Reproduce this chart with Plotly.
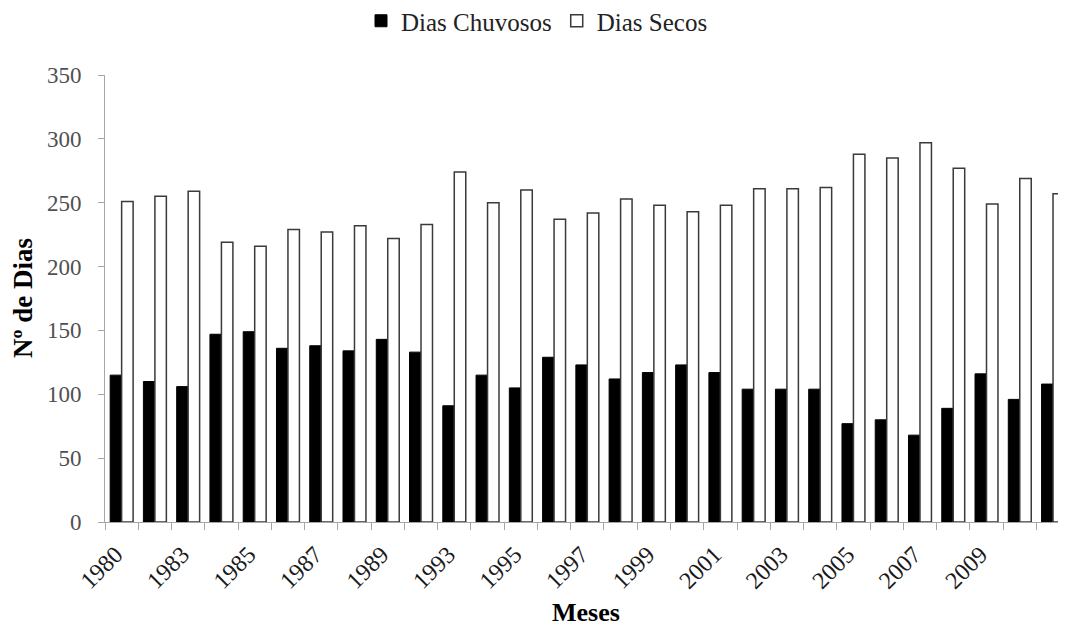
import plotly.graph_objects as go

years = ["1980", "1982", "1983", "1984", "1985", "1986", "1987", "1988", "1989", "1992",
         "1993", "1994", "1995", "1996", "1997", "1998", "1999", "2000", "2001", "2002",
         "2003", "2004", "2005", "2006", "2007", "2008", "2009", "2010", "2011"]
dias_chuvosos = [115, 110, 106, 147, 149, 136, 138, 134, 143, 133,
                 91, 115, 105, 129, 123, 112, 117, 123, 117, 104,
                 104, 104, 77, 80, 68, 89, 116, 96, 108]
dias_secos = [251, 255, 259, 219, 216, 229, 227, 232, 222, 233,
              274, 250, 260, 237, 242, 253, 248, 243, 248, 261,
              261, 262, 288, 285, 297, 277, 249, 269, 257]
tick_labels = [y if i % 2 == 0 and i < 27 else "" for i, y in enumerate(years)]

FONT = "Liberation Serif"
W, H = 1058, 618  # page body has an 8px margin

fig = go.Figure()
fig.add_trace(go.Bar(x=years, y=dias_chuvosos, name="Dias Chuvosos",
                     marker=dict(color="black", line=dict(color="black", width=1))))
fig.add_trace(go.Bar(x=years, y=dias_secos, name="Dias Secos",
                     marker=dict(color="white", line=dict(color="#3a3a3a", width=1.5))))

fig.update_layout(
    width=W, height=H,
    margin=dict(l=97, r=0, t=67, b=104, autoexpand=False),
    plot_bgcolor="white", paper_bgcolor="white",
    barmode="group", bargap=0.31, bargroupgap=0,
    font=dict(family=FONT, color="black"),
    showlegend=True,
    legend=dict(orientation="h", xref="container", yref="container",
                x=0.5, xanchor="center", y=1 - 13 / H, yanchor="middle",
                font=dict(family=FONT, size=25, color="#222222"),
                itemwidth=30, tracegroupgap=0),
    xaxis=dict(type="category", range=[-0.5, 28.39], automargin=False,
               tickmode="array", tickvals=years, ticktext=tick_labels,
               tickson="boundaries", ticks="outside", ticklen=7, tickcolor="#a6a6a6",
               showline=True, linecolor="#a6a6a6", linewidth=1,
               tickangle=-45, tickfont=dict(family=FONT, size=24, color="#1a1a1a"),
               ticklabelstandoff=8, ticklabelshift=-6,
               showgrid=False, zeroline=False),
    yaxis=dict(range=[0, 350], dtick=50, ticks="outside", ticklen=6, tickcolor="#a6a6a6",
               showline=True, linecolor="#a6a6a6", linewidth=1, automargin=False,
               tickfont=dict(family=FONT, size=23, color="#505050"),
               ticklabelstandoff=12,
               showgrid=False, zeroline=False),
    annotations=[
        dict(text="<b>Nº de Dias</b>", xref="paper", yref="paper",
             x=(14.5 - 97) / 961, y=0.5, xanchor="center", yanchor="middle", textangle=-90,
             showarrow=False, font=dict(family=FONT, size=27, color="black")),
        dict(text="<b>Meses</b>", xref="paper", yref="paper",
             x=0.5, y=(514 - 604) / 447, xanchor="center", yanchor="middle",
             showarrow=False, font=dict(family=FONT, size=26, color="black")),
    ],
)

fig.write_html("out.html")
